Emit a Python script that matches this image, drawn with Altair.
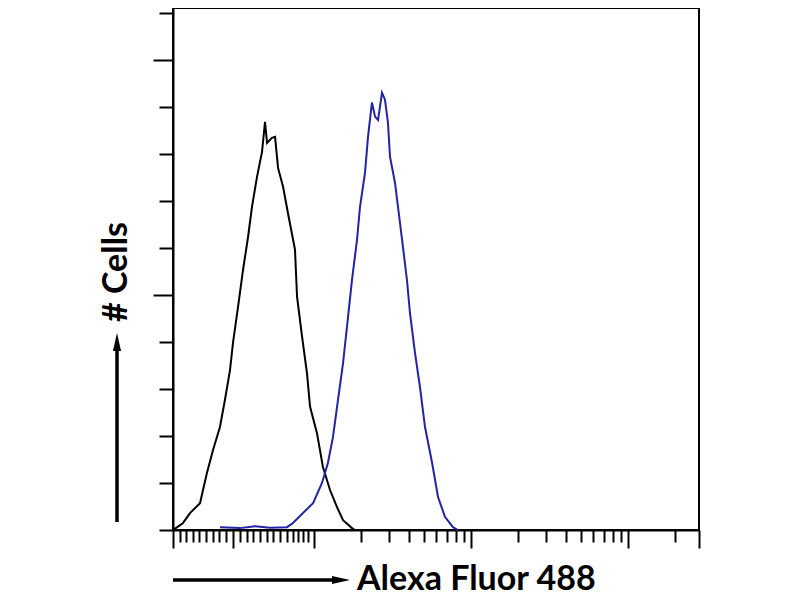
import altair as alt
import pandas as pd

# Fluorescence intensity in log10 display units, cell counts (arbitrary units)
control_x = [1.102, 1.115, 1.166, 1.210, 1.274, 1.318, 1.357, 1.401, 1.433, 1.465, 1.484,
             1.516, 1.548, 1.580, 1.605, 1.637, 1.669, 1.688, 1.701, 1.732, 1.752, 1.771,
             1.803, 1.834, 1.879, 1.892, 1.924, 1.955, 1.975, 2.019, 2.057, 2.102, 2.146,
             2.185, 2.242, 2.261]
control_n = [0.0, 0.3, 1.5, 3.6, 5.7, 12.1, 17.0, 21.9, 27.7, 34.0, 39.8,
             47.4, 55.3, 62.3, 68.7, 75.1, 80.4, 86.8, 82.3, 83.4, 83.6, 77.0,
             73.0, 67.4, 59.6, 49.6, 41.1, 33.4, 26.2, 20.6, 13.4, 8.5, 4.9,
             2.1, 0.4, 0.0]

stained_x = [1.401, 1.529, 1.624, 1.720, 1.828, 1.866, 1.930, 1.994, 2.051, 2.089, 2.121,
             2.153, 2.185, 2.210, 2.242, 2.274, 2.293, 2.325, 2.344, 2.369, 2.389, 2.408,
             2.433, 2.452, 2.471, 2.484, 2.516, 2.535, 2.561, 2.592, 2.611, 2.643, 2.675,
             2.707, 2.752, 2.790, 2.834, 2.885, 2.917]
stained_n = [0.6, 0.4, 0.8, 0.5, 0.6, 1.5, 3.6, 5.7, 10.0, 14.3, 19.8,
             27.7, 35.5, 43.2, 53.2, 61.7, 68.7, 76.0, 83.6, 90.9, 87.9, 87.2,
             93.0, 91.5, 86.6, 79.4, 73.8, 68.7, 61.7, 53.2, 46.2, 37.7, 30.4,
             21.9, 14.3, 7.0, 2.8, 0.6, 0.0]

x_ticks = [1.102, 1.146, 1.185, 1.229, 1.268, 1.312, 1.357, 1.395, 1.439, 1.484,
           1.529, 1.573, 1.611, 1.656, 1.701, 1.739, 1.783, 1.828, 1.866, 1.898,
           1.930, 1.962, 2.0, 2.301, 2.477, 2.602, 2.699, 2.778, 2.845, 2.903, 2.954,
           3.0, 3.301, 3.477, 3.602, 3.699, 3.778, 3.845, 3.903, 3.954, 4.0, 4.301, 4.452]
x_long_ticks = [1.102, 1.484, 2.0, 3.0, 4.0, 4.452]
y_ticks = [0, 10, 20, 30, 40, 50, 60, 70, 80, 90, 100, 110]
y_long_ticks = [50, 100]

x_dom = [1.102, 4.452]
y_dom = [0, 111]

ctrl = pd.DataFrame({"x": control_x, "n": control_n})
stain = pd.DataFrame({"x": stained_x, "n": stained_n})
one = pd.DataFrame({"a": [0]})

long_x_expr = "indexof(" + str(x_long_ticks) + ", datum.value) >= 0"
long_y_expr = "indexof(" + str(y_long_ticks) + ", datum.value) >= 0"

x_enc = alt.X("x:Q", scale=alt.Scale(domain=x_dom, nice=False, zero=False),
              axis=alt.Axis(values=x_ticks, labels=False, grid=False, title="",
                            tickSize={"condition": {"test": long_x_expr, "value": 18}, "value": 12}))
y_enc = alt.Y("n:Q", scale=alt.Scale(domain=y_dom, nice=False),
              axis=alt.Axis(values=y_ticks, labels=False, grid=False, title="",
                            tickSize={"condition": {"test": long_y_expr, "value": 20}, "value": 14}))

black_line = alt.Chart(ctrl).mark_line(color="black", strokeWidth=2).encode(x=x_enc, y=y_enc)
blue_line = alt.Chart(stain).mark_line(color="#2323a8", strokeWidth=2).encode(x=x_enc, y=y_enc)

font = "Lato"
fsize = 34

ylab = alt.Chart(one).mark_text(text="# Cells", angle=270, font=font, fontWeight="bold",
                                fontSize=fsize, align="center", baseline="middle",
                                color="black").encode(x=alt.value(-56), y=alt.value(264))
yarrow = alt.Chart(one).mark_rule(color="black", strokeWidth=3.5).encode(
    x=alt.value(-56), y=alt.value(514), y2=alt.value(338))
yhead = alt.Chart(one).mark_point(shape="M0,-1L0.45,1L-0.45,1Z", filled=True, opacity=1,
                                  color="black", size=324).encode(
    x=alt.value(-56), y=alt.value(334))

xlab = alt.Chart(one).mark_text(text="Alexa Fluor 488", font=font, fontWeight="bold",
                                fontSize=fsize, align="left", baseline="middle",
                                color="black").encode(x=alt.value(184), y=alt.value(572))
xarrow = alt.Chart(one).mark_rule(color="black", strokeWidth=3.5).encode(
    x=alt.value(0), x2=alt.value(164), y=alt.value(572))
xhead = alt.Chart(one).mark_point(shape="M1,0L-1,-0.45L-1,0.45Z", filled=True, opacity=1,
                                  color="black", size=324).encode(
    x=alt.value(168), y=alt.value(572))

chart = alt.layer(black_line, blue_line, ylab, yarrow, yhead, xlab, xarrow, xhead).properties(
    width=526, height=522,
    padding={"left": 165, "top": 0, "right": 90, "bottom": 70},
    autosize=alt.AutoSizeParams(type="none"),
).configure_view(stroke="black", strokeWidth=2).configure_axis(
    domainColor="black", domainWidth=2, tickColor="black", tickWidth=2
)

chart.save("out.html", embed_options={"renderer": "svg", "actions": False})
